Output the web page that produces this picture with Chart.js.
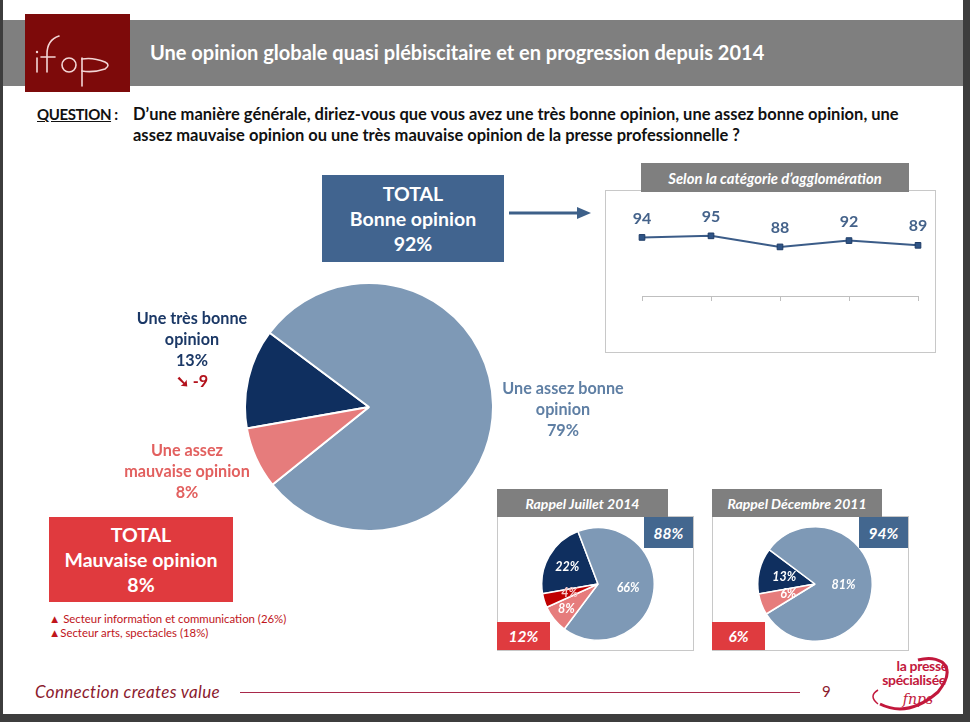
<!DOCTYPE html>
<html>
<head>
<meta charset="utf-8">
<script src="https://cdn.jsdelivr.net/npm/chart.js@4/dist/chart.umd.min.js"></script>
<style>
  body { margin: 0; width: 970px; height: 722px; overflow: hidden; background: #fff; font-family: Lato, "Open Sans", sans-serif; position: relative; }
  .abs { position: absolute; }
  .frame-l { left: 0; top: 0; width: 3px; height: 722px; background: #3d3d3d; }
  .frame-r { left: 963px; top: 0; width: 7px; height: 722px; background: #3d3d3d; }
  .frame-b { left: 0; top: 714px; width: 970px; height: 8px; background: #3d3d3d; }
  .header { left: 3px; top: 20px; width: 960px; height: 66px; background: #7f7f7f; }
  .logo { left: 25px; top: 14px; width: 105px; height: 78px; background: #7d0a0a; }
  .title { left: 150px; top: 40px; color: #fff; font-weight: bold; font-size: 20px; white-space: nowrap; }
  .q { top: 104px; font-weight: bold; font-size: 16.5px; color: #111; line-height: 21px; white-space: nowrap; }
  .box { display: flex; flex-direction: column; align-items: center; justify-content: center; color: #fff; font-weight: bold; text-align: center; }
  .lbl { text-align: center; font-weight: bold; font-size: 16.2px; line-height: 21px; white-space: nowrap; }
  .bar { background: #7f7f7f; color: #fff; font-style: italic; font-weight: bold; font-size: 14px; display: flex; align-items: center; justify-content: center; white-space: nowrap; }
  .panel { border: 1px solid #c8c8c8; box-sizing: border-box; background: #fff; }
  .tag { color: #fff; font-style: italic; font-weight: bold; font-size: 15.5px; display: flex; align-items: center; justify-content: center; }
</style>
</head>
<body>
<div class="abs frame-l"></div>
<div class="abs frame-r"></div>
<div class="abs frame-b"></div>

<div class="abs header"></div>
<div class="abs logo">
  <svg width="105" height="78" viewBox="0 0 105 78">
    <g fill="none" stroke="#f3d6d6" stroke-width="1.6" stroke-linecap="round">
      <path d="M12 44 L12 58"/>
      <path d="M22 58 L22 40 Q22 26 34 22"/>
      <path d="M16 43 L30 43"/>
      <ellipse cx="44" cy="51" rx="7" ry="7"/>
      <path d="M57 44 L57 72"/>
      <path d="M57 45 Q68 43 80 48 Q86 51 80 55 Q68 59 57 57"/>
    </g>
    <circle cx="12" cy="38" r="1.2" fill="#f3d6d6"/>
  </svg>
</div>
<div class="abs title" id="title">Une opinion globale quasi plébiscitaire et en progression depuis 2014</div>

<div class="abs q" style="left:37px; font-size:15px; letter-spacing:-0.4px;"><span style="text-decoration: underline;">QUESTION</span> :</div>
<div class="abs q" style="left:133px;">D’une manière générale, diriez-vous que vous avez une très bonne opinion, une assez bonne opinion, une<br>assez mauvaise opinion ou une très mauvaise opinion de la presse professionnelle ?</div>

<div class="abs box" id="totalGood" style="left:322px; top:175px; width:182px; height:87px; background:#41648f; font-size:19.5px; line-height:25px;"></div>
<svg class="abs" style="left:505px; top:205px;" width="90" height="16">
  <line x1="4" y1="8" x2="74" y2="8" stroke="#3d6089" stroke-width="3"/>
  <polygon points="72,2 86,8 72,14" fill="#3d6089"/>
</svg>

<div class="abs panel" style="left:605px; top:190px; width:331px; height:163px;"></div>
<div class="abs bar" style="left:641px; top:163px; width:268px; height:29px; font-size:14.8px;">Selon la catégorie d’agglomération</div>
<div class="abs" style="left:606px; top:191px; width:328px; height:160px;"><canvas id="lineChart"></canvas></div>

<div class="abs" style="left:244px; top:282px; width:250px; height:250px;"><canvas id="mainPie"></canvas></div>

<div class="abs lbl" id="lblVeryGood" style="left:92px; top:307px; width:200px; color:#1b3866;"></div>
<div class="abs lbl" id="lblFairBad" style="left:87px; top:439px; width:200px; color:#e2605f;"></div>
<div class="abs lbl" id="lblFairGood" style="left:463px; top:377px; width:200px; color:#5f7fa4;"></div>

<div class="abs box" id="totalBad" style="left:49px; top:517px; width:184px; height:85px; background:#e03a3e; font-size:19.5px; line-height:25px;"></div>
<div class="abs" style="left:49px; top:612px; font-size:11.4px; line-height:14px; color:#c0151b; white-space:nowrap;">
  <div>▲ Secteur information et communication (26%)</div>
  <div>▲Secteur arts, spectacles (18%)</div>
</div>

<div class="abs panel" style="left:497px; top:516px; width:197px; height:135px;"></div>
<div class="abs bar" style="left:497px; top:489px; width:171px; height:28px;">Rappel Juillet 2014</div>
<div class="abs" style="left:541px; top:527px; width:114px; height:114px;"><canvas id="pieJuly"></canvas></div>
<div class="abs tag" id="julyGood" style="left:644px; top:517px; width:49px; height:31px; background:#43678f;"></div>
<div class="abs tag" id="julyBad" style="left:497px; top:622px; width:53px; height:28px; background:#df3b3f;"></div>

<div class="abs panel" style="left:712px; top:516px; width:197px; height:135px;"></div>
<div class="abs bar" style="left:712px; top:489px; width:170px; height:28px;">Rappel Décembre 2011</div>
<div class="abs" style="left:757px; top:526px; width:116px; height:116px;"><canvas id="pieDec"></canvas></div>
<div class="abs tag" id="decGood" style="left:859px; top:517px; width:49px; height:31px; background:#43678f;"></div>
<div class="abs tag" id="decBad" style="left:712px; top:622px; width:53px; height:28px; background:#df3b3f;"></div>

<div class="abs" style="left:35px; top:681px; font-style:italic; font-size:17px; letter-spacing:0.35px; color:#8b1a2e; white-space:nowrap;">Connection creates value</div>
<div class="abs" style="left:240px; top:692px; width:560px; height:1px; background:#a8284a;"></div>
<div class="abs" style="left:822px; top:682px; font-size:15px; color:#8b1a2e;">9</div>
<svg class="abs" style="left:838px; top:652px;" width="118" height="62">
  <path d="M42 52 Q70 66 100 40 Q116 20 104 10 Q94 4 80 8" fill="none" stroke="#c2183c" stroke-width="3"/>
  <path d="M40 52 Q30 44 40 38" fill="none" stroke="#c2183c" stroke-width="1.5"/>
  <text x="110" y="19" text-anchor="end" font-family="Lato" font-weight="bold" font-size="14" letter-spacing="-0.3" fill="#c2183c">la presse</text>
  <text x="108" y="33" text-anchor="end" font-family="Lato" font-weight="bold" font-size="14" letter-spacing="-0.3" fill="#c2183c">spécialisée</text>
  <text x="80" y="52" text-anchor="middle" font-family="DejaVu Serif" font-style="italic" font-size="14" fill="#c2183c">fnps</text>
</svg>

<script>
const opinionLabels = ['Une très bonne opinion', 'Une assez bonne opinion', 'Une assez mauvaise opinion', 'Une très mauvaise opinion'];
const opinion2015 = [13, 79, 8, 0];
const opinionJuly2014 = [22, 66, 8, 4];
const opinionDec2011 = [13, 81, 6, 0];

const agglomerationCats = ['Cat. 1', 'Cat. 2', 'Cat. 3', 'Cat. 4', 'Cat. 5'];
const agglomerationGood = [94, 95, 88, 92, 89];

const pieColors = ['#0f2f5f', '#7e99b6', '#e67c7c', '#c00000'];

const good = arr => arr[0] + arr[1];
const bad = arr => arr[2] + arr[3];

document.getElementById('totalGood').innerHTML = 'TOTAL<br>Bonne opinion<br>' + good(opinion2015) + '%';
document.getElementById('totalBad').innerHTML = 'TOTAL<br>Mauvaise opinion<br>' + bad(opinion2015) + '%';
document.getElementById('lblVeryGood').innerHTML = 'Une très bonne<br>opinion<br>' + opinion2015[0] + '%<br><span style="color:#b3121c">➘ ' + (opinion2015[0] - opinionJuly2014[0]) + '</span>';
document.getElementById('lblFairGood').innerHTML = 'Une assez bonne<br>opinion<br>' + opinion2015[1] + '%';
document.getElementById('lblFairBad').innerHTML = 'Une assez<br>mauvaise opinion<br>' + opinion2015[2] + '%';
document.getElementById('julyGood').textContent = good(opinionJuly2014) + '%';
document.getElementById('julyBad').textContent = bad(opinionJuly2014) + '%';
document.getElementById('decGood').textContent = good(opinionDec2011) + '%';
document.getElementById('decBad').textContent = bad(opinionDec2011) + '%';

// pourcentages dans les parts des petits camemberts
const sliceLabels = {
  id: 'sliceLabels',
  afterDatasetsDraw(chart, args, opts) {
    if (!opts.radius) return;
    const ctx = chart.ctx;
    const meta = chart.getDatasetMeta(0);
    const data = chart.data.datasets[0].data;
    ctx.save();
    ctx.font = 'italic bold 12.5px Lato';
    ctx.textAlign = 'center';
    ctx.textBaseline = 'middle';
    meta.data.forEach((arc, i) => {
      if (!data[i]) return;
      const p = arc.getProps(['x', 'y', 'startAngle', 'endAngle', 'outerRadius'], true);
      const mid = (p.startAngle + p.endAngle) / 2;
      const r = p.outerRadius * opts.radius[i];
      ctx.fillStyle = opts.colors ? opts.colors[i] : '#fff';
      ctx.fillText(data[i] + '%', p.x + Math.cos(mid) * r, p.y + Math.sin(mid) * r);
    });
    ctx.restore();
  }
};

function makePie(id, values, borderWidth, labelOpts) {
  return new Chart(document.getElementById(id), {
    type: 'pie',
    data: {
      labels: opinionLabels,
      datasets: [{
        data: values,
        backgroundColor: pieColors,
        borderColor: '#fff',
        borderWidth: borderWidth
      }]
    },
    options: {
      responsive: true,
      maintainAspectRatio: false,
      animation: false,
      rotation: 260,
      plugins: {
        legend: { display: false },
        tooltip: { enabled: false },
        sliceLabels: labelOpts
      }
    },
    plugins: [sliceLabels]
  });
}

makePie('mainPie', opinion2015, 2, {});
makePie('pieJuly', opinionJuly2014, 1.5, { radius: [0.63, 0.54, 0.72, 0.53], colors: ['#fff', '#fff', '#fff', '#f6c8c8'] });
makePie('pieDec', opinionDec2011, 1.5, { radius: [0.55, 0.5, 0.5, 0.5] });

// valeurs au-dessus des points
const pointValues = {
  id: 'pointValues',
  afterDatasetsDraw(chart) {
    const ctx = chart.ctx;
    const meta = chart.getDatasetMeta(0);
    ctx.save();
    ctx.font = 'bold 16px Lato';
    ctx.fillStyle = '#44628a';
    ctx.textAlign = 'center';
    ctx.textBaseline = 'middle';
    meta.data.forEach((pt, i) => {
      ctx.fillText(chart.data.datasets[0].data[i], pt.x, pt.y - 19);
    });
    ctx.restore();
  }
};

new Chart(document.getElementById('lineChart'), {
  type: 'line',
  data: {
    labels: agglomerationCats,
    datasets: [{
      data: agglomerationGood,
      borderColor: '#3b5c88',
      borderWidth: 2,
      pointStyle: 'rect',
      pointRadius: 4,
      pointBackgroundColor: '#2f5486',
      pointBorderColor: '#1f3c66',
      pointBorderWidth: 1,
      tension: 0
    }]
  },
  options: {
    responsive: true,
    maintainAspectRatio: false,
    animation: false,
    layout: { padding: { left: 36, right: 16, top: 10, bottom: 50 } },
    scales: {
      x: {
        offset: false,
        grid: { drawOnChartArea: false, drawTicks: true, tickLength: 5, color: '#bfbfbf' },
        border: { color: '#bfbfbf' },
        ticks: { display: false }
      },
      y: { display: false, min: 57, max: 117 }
    },
    plugins: { legend: { display: false }, tooltip: { enabled: false } }
  },
  plugins: [pointValues]
});
</script>
</body>
</html>
